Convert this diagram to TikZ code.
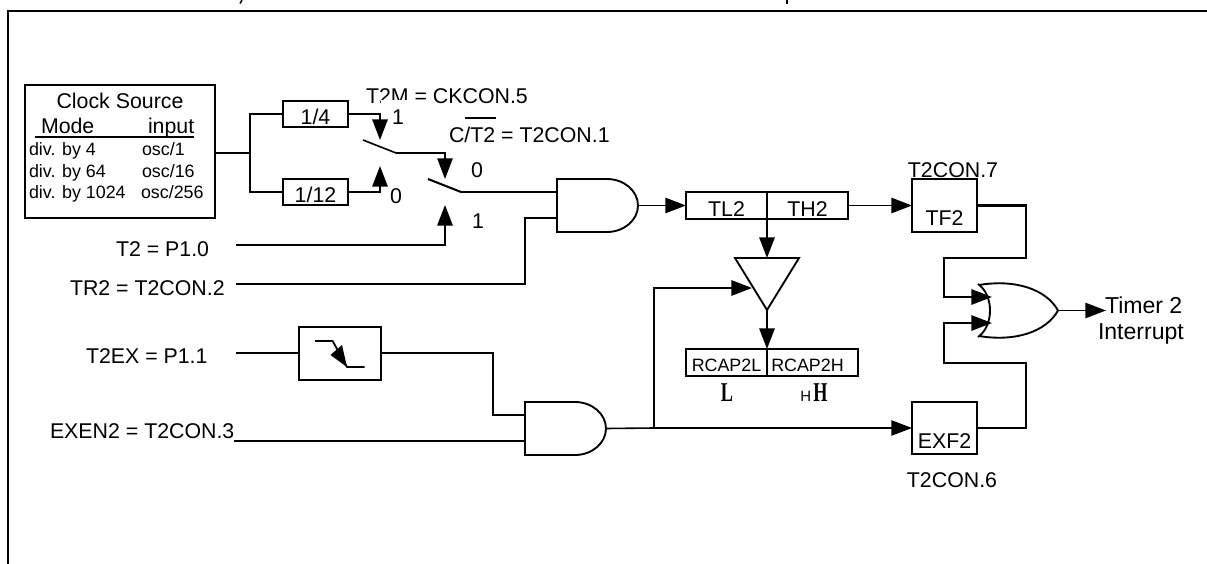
\documentclass[tikz,border=0pt]{standalone}
\usepackage{graphicx}
\usepackage{fontspec}
\setmainfont{Liberation Sans}
\newfontfamily\timesfont{Liberation Serif}
\usetikzlibrary{arrows.meta}
\newcommand{\fa}{\fontsize{16pt}{18pt}\selectfont}
\newcommand{\fb}{\fontsize{13.4pt}{16pt}\selectfont}
\newcommand{\fc}{\fontsize{17.3pt}{20pt}\selectfont}
\newcommand{\bigser}[1]{\scalebox{.67}[1]{\fontsize{20.4pt}{22pt}\timesfont\bfseries #1}}
\tikzset{
  wire/.style={line width=1.55pt,line cap=butt,line join=miter},
  thinwire/.style={line width=1.2pt,line join=miter},
  arr/.style={-{Triangle[length=15.5pt,width=11.5pt]}},
  blk/.style 2 args={draw,rectangle,line width=1.55pt,inner sep=0pt,outer sep=0pt,
    minimum width=#1*0.75pt,minimum height=#2*0.75pt,font=\fa},
  bsl/.style={text height=2*#1*0.75pt,text depth=0pt},
  tx/.style={inner sep=0pt,outer sep=0pt,font=\fa,anchor=base west},
  txc/.style={inner sep=0pt,outer sep=0pt,font=\fa,anchor=base},
  txs/.style={inner sep=0pt,outer sep=0pt,font=\fb,anchor=base west},
  pt0/.style={inner sep=0pt,outer sep=0pt,minimum size=0pt},
  andg/.pic={
    \draw[line width=1.4pt] (0,26.5) -- (0,0) -- (50,0)
      .. controls (67,0) and (81,11.9) .. (81,26.5)
      .. controls (81,41.1) and (67,53) .. (50,53) -- (0,53) -- cycle;
    \coordinate (-in1) at (0,13);
    \coordinate (-in2) at (0,39);
    \coordinate (-out) at (81,26.5);
  },
}
\begin{document}
\begin{tikzpicture}[x=0.75pt,y=-0.75pt]
\useasboundingbox (0,0) rectangle (1207,564);
% frame and the cut-off ends of the caption above it
\draw[line width=2.1pt,line join=miter] (8,564) -- (8,11) -- (1207,11);
\draw[line width=1.1pt] (242,0) -- (240,3.5);
\draw[line width=1.1pt] (787,0) -- (787,3.5);

% clock source
\node[blk={190}{133},anchor=north west] (clk) at (25,85) {};
\node[txc] (clktitle) at (120,108) {Clock Source};
\node[tx] (mode) at (41,133) {Mode};
\node[tx] (inp) at (148,133) {input};
\draw[wire] (35,137) -- (194,137);
\node[txs] (d1) at (29,155) {div. by 4};
\node[txs] (d2) at (29,177) {div. by 64};
\node[txs] (d3) at (29,198) {div. by 1024};
\node[txs] (o1) at (142,155) {osc/1};
\node[txs] (o2) at (142,177) {osc/16};
\node[txs] (o3) at (141,198) {osc/256};

% dividers
\node[blk={65}{26},bsl=10.5] (d4) at (315.5,114) {1/4};
\node[blk={65}{26},bsl=10.5] (d12) at (315.5,192) {1/12};
\coordinate (jc) at (250,153);
\draw[wire] (clk.east |- jc) -- (jc);
\draw[wire] (d4.west) -| (jc) |- (d12.west);

% switches
\coordinate (s1up) at (380,140);
\coordinate (s1dn) at (380,166);
\coordinate (s1a) at (363,140);
\coordinate (s1b) at (396,153);
\draw[wire,arr] (d4.east) -| (s1up);
\draw[wire,arr] (d12.east) -| (s1dn);
\coordinate (s2up) at (445,179);
\coordinate (s2dn) at (445,205);
\coordinate (s2a) at (428,179);
\coordinate (s2b) at (461,192);
\draw[thinwire] (s1a) -- (s1b);
\draw[thinwire,arr] (s1b) -| (s2up);
\draw[wire] (s2a) -- (s2b);
\node[tx] (l1a) at (392,124) {1};
\node[tx] (l0a) at (390,203) {0};
\node[tx] (l0b) at (471,177) {0};
\node[tx] (l1b) at (472,228) {1};

% mode labels
\node[tx] (t2m) at (366,103) {T2M = CKCON.5};
\fill[white] (381,99.5) rectangle (410,106);
\node[tx] (ct2) at (449,142) {C/T2 = T2CON.1};
\draw[line width=1.1pt] (465,118) -- (496,118);

% inputs
\node[tx] (t2) at (116,256) {T2 = P1.0};
\node[tx] (tr2) at (70,295) {TR2 = T2CON.2};
\node[tx] (t2ex) at (86,363) {T2EX = P1.1};
\node[tx] (exen) at (50,438) {EXEN2 = T2CON.3};
\coordinate (t2w) at (236,245);
\coordinate (tr2w) at (236,284);
\coordinate (t2exw) at (236,353);
\coordinate (exenw) at (234,441);
\draw[wire,arr] (t2w) -| (s2dn);

% first AND
\pic (a1) at (557,179) {andg};
\draw[wire] (s2b) -- (a1-in1);
\coordinate (tr2k) at (525,218);
\draw[wire] (tr2w) -| (tr2k) -- (a1-in2);

% timer registers
\node[blk={81}{27},bsl=10.5] (tl2) at (726.5,205.5) {TL2};
\node[blk={81}{27},bsl=10.5] (th2) at (807.5,205.5) {TH2};
\draw[thinwire,arr] (a1-out) -- (tl2.west);

% buffer
\node[pt0] (buftop) at (767,258) {};
\node[pt0] (bufbot) at (767,310) {};
\node[pt0] (bufleft) at (752,288) {};
\draw[line width=1.4pt,line join=miter] (735,258) -- (799,258) -- (bufbot.center) -- cycle;
\draw[wire,arr] (tl2.south east) -- (buftop.center);

% reload registers
\node[blk={81}{27},font=\fb,bsl=8.5] (rl) at (726.5,362.5) {RCAP2L};
\node[blk={91}{27},font=\fb,bsl=8.5] (rh) at (812.5,362.5) {RCAP2H\kern7.5pt};
\draw[wire,arr] (bufbot.center) -- (rl.north east);
\node[txc] (bigl) at (727,401) {\bigser{L}};
\node[inner sep=0pt,anchor=base west] (smallh) at (800,401) {\fontsize{11.2pt}{12pt}\selectfont H};
\node[inner sep=0pt,anchor=base west] (bigh) at (813,401) {\bigser{H}};

% flags
\node[blk={65}{53},bsl=19.5] (tf2) at (944.5,205.5) {TF2};
\node[blk={65}{52},bsl=20] (exf2) at (944.5,428) {EXF2};
\node[txc] (t7) at (953,177) {T2CON.7};
\node[txc] (t6) at (952,487) {T2CON.6};
\draw[thinwire,arr] (th2.east) -- (tf2.west);

% edge detector
\node[blk={82}{53}] (edge) at (340,353.5) {};
\draw[line width=1.3pt,line join=miter] (315,341) -- (332.6,341) -- (347,367) -- (364.6,367);
\fill (342,345) -- (330.5,355) -- (347,367) -- cycle;
\draw[wire] (t2exw) -- (edge.west |- t2exw);

% second AND
\pic (a2) at (525,402) {andg};
\coordinate (e1) at (492.6,415);
\draw[wire] (edge.east |- t2exw) -| (e1) -- (a2-in1);
\draw[wire] (exenw) -- (a2-in2);
\coordinate (jo) at (654,428);
\draw[thinwire] (a2-out) -- (jo);
\draw[thinwire,arr] (jo) -- (exf2.west);
\draw[wire,arr] (jo) |- (bufleft.center);

% OR gate
\draw[line width=1.4pt] (978,284) .. controls (994,295) and (994,326) .. (978,337);
\draw[line width=1.4pt] (979,285) .. controls (1015,279) and (1046,289) .. (1058,310.5)
  .. controls (1046,332) and (1015,342) .. (979,336);
\coordinate (orin1) at (992,297);
\coordinate (orin2) at (992,323);
\coordinate (orout) at (1058,310.5);
\coordinate (w1a) at (1026,258);
\coordinate (w1b) at (944,258);
\coordinate (w2a) at (1026,363);
\coordinate (w2b) at (944,363);
\draw[wire,arr] (tf2.east) -| (w1a) -- (w1b) |- (orin1);
\draw[wire,arr] (exf2.east) -| (w2a) -- (w2b) |- (orin2);
\node[pt0] (timerpt) at (1106,310.5) {};
\draw[thinwire,arr] (orout) -- (timerpt.center);
\node[tx,font=\fc] (timer) at (1105,313) {Timer 2};
\node[tx,font=\fc] (intr) at (1098,339) {Interrupt};
\end{tikzpicture}
\end{document}
